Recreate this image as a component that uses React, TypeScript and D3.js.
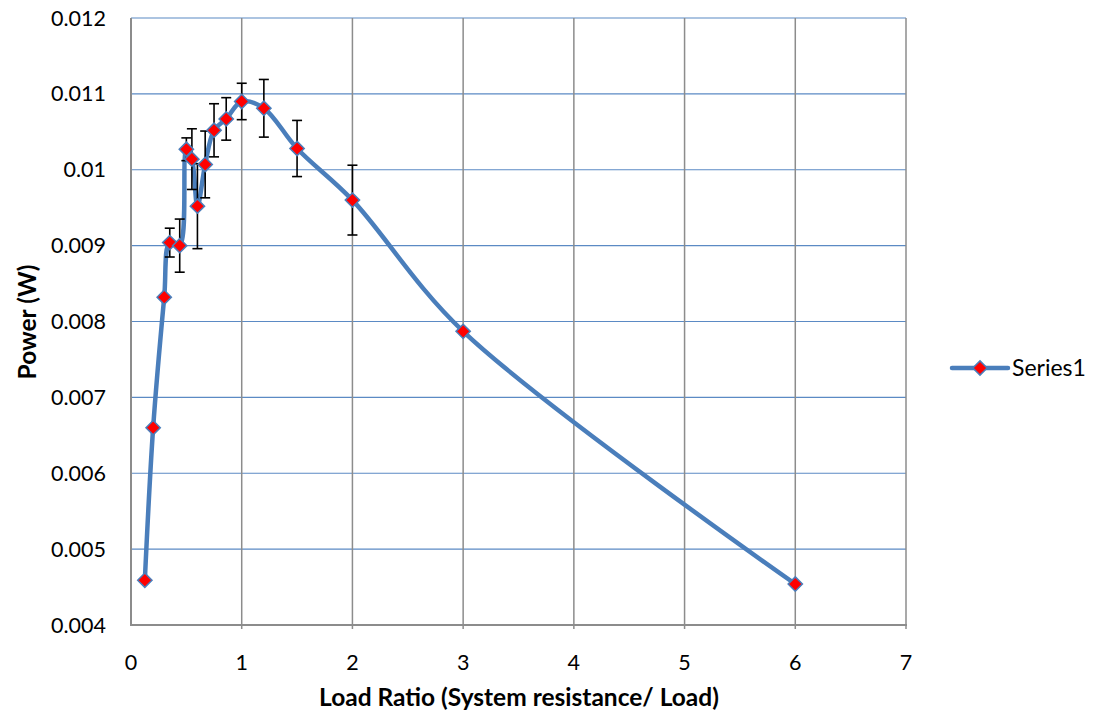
import * as d3 from "d3";
import { useEffect, useRef } from "react";

const loadRatio = [0.125, 0.2, 0.3, 0.35, 0.44, 0.5, 0.55, 0.6, 0.67, 0.75, 0.86, 1, 1.2, 1.5, 2, 3, 6];
const power = [0.00459, 0.0066, 0.00832, 0.00904, 0.009, 0.01027, 0.01014, 0.00952, 0.01007, 0.01052, 0.01067, 0.0109, 0.01081, 0.01028, 0.0096, 0.00787, 0.00454];
const powerErr = [null, null, null, 0.00019, 0.00035, 0.00015, 0.0004, 0.00056, 0.00044, 0.00035, 0.00028, 0.00024, 0.00038, 0.00037, 0.00046, null, null];

const xTicks = [0, 1, 2, 3, 4, 5, 6, 7];
const yTicks = [0.004, 0.005, 0.006, 0.007, 0.008, 0.009, 0.01, 0.011, 0.012];
const seriesName = "Series1";

const FONT = "Lato, 'Open Sans', sans-serif";

export default function App() {
    const ref = useRef<SVGSVGElement>(null);

    useEffect(() => {
        document.body.style.margin = "0";
        const width = 1099, height = 715;
        const svg = d3.select(ref.current);
        svg.selectAll("*").remove();
        svg.attr("width", width).attr("height", height).style("display", "block");

        const x = d3.scaleLinear().domain([0, 7]).range([131, 906]);
        const y = d3.scaleLinear().domain([0.004, 0.012]).range([625, 18]);

        const data = loadRatio.map((r, i) => ({ x: r, y: power[i], e: powerErr[i] }));

        // horizontal gridlines
        svg.append("g")
            .selectAll("line")
            .data(yTicks)
            .enter()
            .append("line")
            .attr("x1", x(0)).attr("x2", x(7))
            .attr("y1", d => y(d)).attr("y2", d => y(d))
            .attr("stroke", "#5b8ac4")
            .attr("stroke-width", 1.2);

        // vertical gridlines
        svg.append("g")
            .selectAll("line")
            .data(xTicks.slice(1))
            .enter()
            .append("line")
            .attr("x1", d => x(d)).attr("x2", d => x(d))
            .attr("y1", y(0.012)).attr("y2", y(0.004) + 4)
            .attr("stroke", "#8c8c8c")
            .attr("stroke-width", 1.5);

        // axes
        svg.append("line")
            .attr("x1", x(0)).attr("x2", x(0))
            .attr("y1", y(0.012)).attr("y2", y(0.004))
            .attr("stroke", "#8c8c8c").attr("stroke-width", 2);
        svg.append("line")
            .attr("x1", x(0) - 1).attr("x2", x(7) + 1)
            .attr("y1", y(0.004)).attr("y2", y(0.004))
            .attr("stroke", "#8c8c8c").attr("stroke-width", 2);

        // tick labels
        svg.append("g")
            .selectAll("text")
            .data(yTicks)
            .enter()
            .append("text")
            .attr("x", 106)
            .attr("y", d => y(d))
            .attr("dy", "0.35em")
            .attr("text-anchor", "end")
            .attr("font-family", FONT)
            .attr("font-size", 21.5)
            .attr("fill", "#000")
            .text(d => String(+d.toFixed(3)));

        svg.append("g")
            .selectAll("text")
            .data(xTicks)
            .enter()
            .append("text")
            .attr("x", d => x(d))
            .attr("y", 662)
            .attr("dy", "0.35em")
            .attr("text-anchor", "middle")
            .attr("font-family", FONT)
            .attr("font-size", 21.5)
            .attr("fill", "#000")
            .text(d => d);

        // axis titles
        svg.append("text")
            .attr("x", 519).attr("y", 697)
            .attr("dy", "0.35em")
            .attr("text-anchor", "middle")
            .attr("font-family", FONT)
            .attr("font-size", 24.5)
            .attr("font-weight", "bold")
            .text("Load Ratio (System resistance/ Load)");

        svg.append("text")
            .attr("transform", "translate(27,322) rotate(-90)")
            .attr("dy", "0.35em")
            .attr("text-anchor", "middle")
            .attr("font-family", FONT)
            .attr("font-size", 24.5)
            .attr("font-weight", "bold")
            .text("Power (W)");

        // series line
        const line = d3.line<any>()
            .x(d => x(d.x))
            .y(d => y(d.y))
            .curve(d3.curveCatmullRom.alpha(0.5));

        svg.append("path")
            .datum(data)
            .attr("d", line)
            .attr("fill", "none")
            .attr("stroke", "#4a7ebb")
            .attr("stroke-width", 4.5)
            .attr("stroke-linejoin", "round");

        // error bars
        const eb = svg.append("g")
            .selectAll("g")
            .data(data.filter(d => d.e != null))
            .enter()
            .append("g")
            .attr("stroke", "#000")
            .attr("stroke-width", 1.6);
        eb.append("line")
            .attr("x1", d => x(d.x)).attr("x2", d => x(d.x))
            .attr("y1", d => y(d.y + d.e)).attr("y2", d => y(d.y - d.e));
        eb.append("line")
            .attr("x1", d => x(d.x) - 5).attr("x2", d => x(d.x) + 5)
            .attr("y1", d => y(d.y + d.e)).attr("y2", d => y(d.y + d.e));
        eb.append("line")
            .attr("x1", d => x(d.x) - 5).attr("x2", d => x(d.x) + 5)
            .attr("y1", d => y(d.y - d.e)).attr("y2", d => y(d.y - d.e));

        // markers
        const diamond = d3.symbol().type(d3.symbolDiamond2).size(130);
        svg.append("g")
            .selectAll("path")
            .data(data)
            .enter()
            .append("path")
            .attr("transform", d => `translate(${x(d.x)},${y(d.y)})`)
            .attr("d", diamond)
            .attr("fill", "#ff0000")
            .attr("stroke", "#4a7ebb")
            .attr("stroke-width", 1.5);

        // legend
        const lg = svg.append("g").attr("transform", "translate(952,368)");
        lg.append("line")
            .attr("x1", 0).attr("x2", 56)
            .attr("stroke", "#4a7ebb")
            .attr("stroke-width", 4.5)
            .attr("stroke-linecap", "round");
        lg.append("path")
            .attr("transform", "translate(28,0)")
            .attr("d", diamond)
            .attr("fill", "#ff0000")
            .attr("stroke", "#4a7ebb")
            .attr("stroke-width", 1.5);
        lg.append("text")
            .attr("x", 60)
            .attr("dy", "0.35em")
            .attr("font-family", FONT)
            .attr("font-size", 23)
            .text(seriesName);
    }, []);

    return <svg ref={ref}></svg>;
}
